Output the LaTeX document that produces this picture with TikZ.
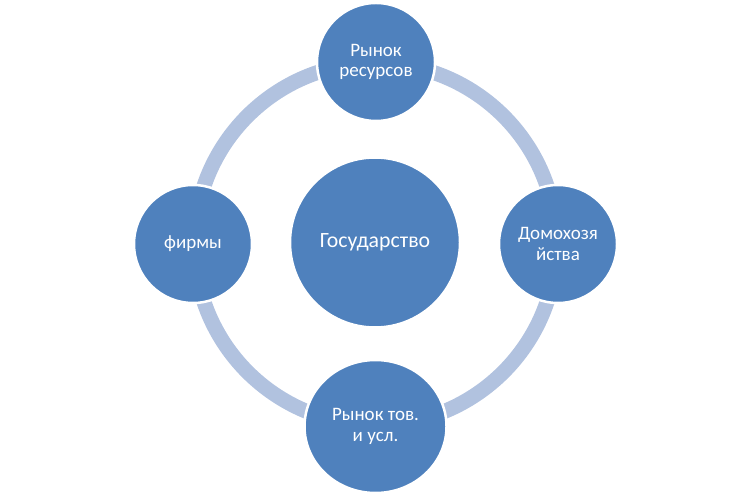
\documentclass[tikz,border=0pt]{standalone}
\usepackage{fontspec}
\setmainfont{Carlito}
\usetikzlibrary{shapes.geometric}
\definecolor{discblue}{HTML}{4F81BD}
\definecolor{ringblue}{HTML}{B1C2DF}
\tikzset{
  disc/.style={circle, fill=discblue, draw=white, line width=2.5pt, text=white,
    align=center, inner sep=0pt, font=\fontsize{19}{20.5}\selectfont},
  ring/.style={draw=ringblue, line width=15pt},
}
\begin{document}
\begin{tikzpicture}[x=1pt,y=1pt]
\useasboundingbox (0,0) rectangle (751,495);
\coordinate (ringc) at (375.5,251);
\draw[ring] (ringc) circle (181);
\node[disc, minimum size=170, font=\fontsize{21.8}{25}\selectfont] (state) at (375,252.5) {Государство};
\node[disc, minimum size=118] (res) at (376,433) {Рынок\\ресурсов};
\node[disc, minimum size=118] (house) at (558,251) {Домохозя\\йства};
\node[disc, minimum size=118] (firms) at (193,251) {фирмы};
\node[disc, ellipse, minimum width=142, minimum height=133] (goods) at (375.5,68.5) {Рынок тов.\\и усл.};
\end{tikzpicture}
\end{document}
